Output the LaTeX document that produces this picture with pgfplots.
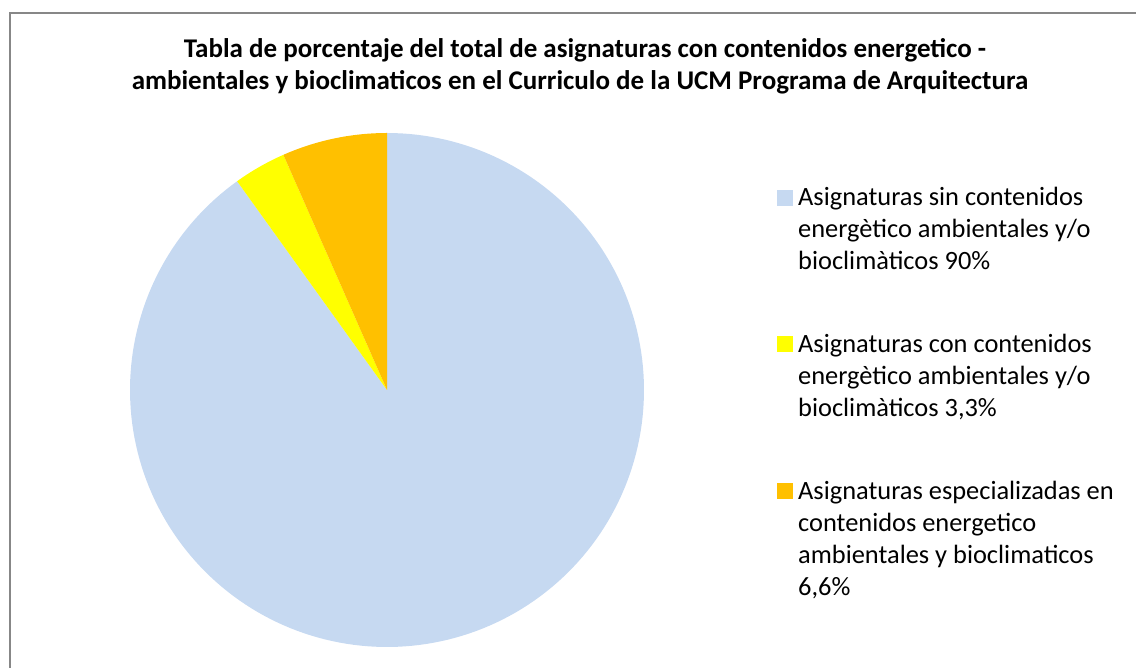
\documentclass[border=0pt]{standalone}
\usepackage{pgfplots}
\pgfplotsset{compat=1.18}
\usepackage{pgfplotstable}
\usepackage{fontspec}
\setmainfont{Carlito}
\definecolor{pieblue}{HTML}{C6D9F1}
\definecolor{pieyellow}{HTML}{FFFF00}
\definecolor{pieorange}{HTML}{FFC000}
\definecolor{framegray}{HTML}{878787}

\pgfplotstableread{
share
90
3.3
6.6
}\piedata

\begin{document}
\begin{tikzpicture}
\pgfplotstablegetelem{0}{share}\of\piedata \let\va\pgfplotsretval
\pgfplotstablegetelem{1}{share}\of\piedata \let\vb\pgfplotsretval
\pgfplotstablegetelem{2}{share}\of\piedata \let\vc\pgfplotsretval
\pgfmathsetmacro{\tot}{\va+\vb+\vc}
\pgfmathsetmacro{\aA}{90}
\pgfmathsetmacro{\aB}{90-360*(\va/\tot)}
\pgfmathsetmacro{\aC}{\aB-360*(\vb/\tot)}
\pgfmathsetmacro{\aD}{\aC-360*(\vc/\tot)}
\def\cx{387}\def\cy{278}\def\rr{257}
\begin{axis}[
  width=1136pt, height=668pt, scale only axis,
  xmin=0, xmax=1136, ymin=0, ymax=668,
  hide axis, clip=false,
  legend style={at={(axis cs:777,481)}, anchor=north west, draw=none, fill=none,
    font=\fontsize{26.4}{32}\selectfont, row sep=127pt, column sep=5pt,
    inner sep=0pt, cells={anchor=base west}, nodes={inner sep=0pt}},
  legend image code/.code={\path[#1] (0pt,0pt) rectangle (16pt,16pt);},
]
\addplot[fill=pieblue, draw=none, domain=\aB:\aA, samples=200]
  ({\cx+\rr*cos(x)}, {\cy+\rr*sin(x)}) -- (axis cs:\cx,\cy) -- cycle;
\addlegendentry{\parbox[t]{340pt}{\raggedright Asignaturas sin contenidos\\energètico ambientales y/o\\bioclimàticos 90\%}}
\addplot[fill=pieyellow, draw=none, domain=\aC:\aB, samples=20]
  ({\cx+\rr*cos(x)}, {\cy+\rr*sin(x)}) -- (axis cs:\cx,\cy) -- cycle;
\addlegendentry{\parbox[t]{340pt}{\raggedright Asignaturas con contenidos\\energètico ambientales y/o\\bioclimàticos 3,3\%}}
\addplot[fill=pieorange, draw=none, domain=\aD:\aC, samples=30]
  ({\cx+\rr*cos(x)}, {\cy+\rr*sin(x)}) -- (axis cs:\cx,\cy) -- cycle;
\addlegendentry{\parbox[t]{340pt}{\raggedright Asignaturas especializadas en\\contenidos energetico\\ambientales y bioclimaticos\\6,6\%}}
\node[anchor=base, font=\bfseries\fontsize{27}{32}\selectfont] at (axis cs:585,610) {Tabla de porcentaje del total de asignaturas con contenidos energetico -};
\node[anchor=base, font=\bfseries\fontsize{27}{32}\selectfont] at (axis cs:580,578) {ambientales y bioclimaticos en el Curriculo de la UCM Programa de Arquitectura};
\draw[framegray, line width=2pt] (axis cs:10,-5) -- (axis cs:10,654.5) -- (axis cs:1145,654.5);
\end{axis}
\pgfresetboundingbox
\path[use as bounding box] (current axis.south west) rectangle (current axis.north east);
\end{tikzpicture}
\end{document}
